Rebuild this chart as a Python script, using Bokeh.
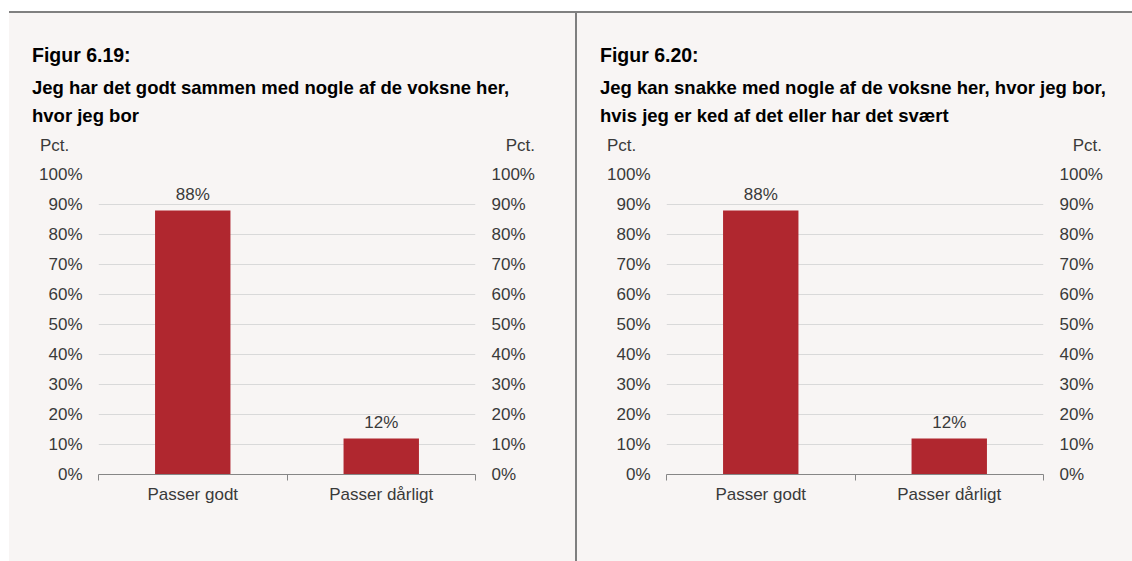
from bokeh.plotting import figure
from bokeh.models import (Range1d, LinearAxis, FixedTicker, Div,
                          PrintfTickFormatter, ColumnDataSource, Grid, Spacer)
from bokeh.layouts import row, column
from bokeh.embed import file_html
from bokeh.resources import INLINE
from bokeh.core.properties import value

# ---- data ----
categories = ["Passer godt", "Passer dårligt"]
values_6_19 = [88, 12]
values_6_20 = [88, 12]
labels_6_19 = ["88%", "12%"]
labels_6_20 = ["88%", "12%"]
y_ticks = [0, 10, 20, 30, 40, 50, 60, 70, 80, 90, 100]
fig_6_19 = "Figur 6.19:"
sub_6_19 = ["Jeg har det godt sammen med nogle af de voksne her,", "hvor jeg bor"]
fig_6_20 = "Figur 6.20:"
sub_6_20 = ["Jeg kan snakke med nogle af de voksne her, hvor jeg bor,",
            "hvis jeg er ked af det eller har det svært"]
unit_label = "Pct."

# ---- style ----
BG = "#f8f5f4"
RED = "#b0272f"
TXT = "#3a3a3a"
GRID = "#d9d9d9"
AX = "#868686"
FONT = "Liberation Sans"
H = 548          # full panel height
HH = 148         # header height
HC = H - HH      # chart height
FL = 89          # frame left inside each chart
ASC = 0.8464     # baseline position (em) for line-height 1 in Liberation Sans

n = len(categories)
centers = [i + 0.5 for i in range(n)]      # category slots on a 0..n axis
edges = list(range(n + 1))


def span(text, size, baseline, bold=False, color=TXT, left=None, right=None):
    top = baseline - ASC * size
    pos = f"left:{left}px;" if left is not None else f"right:{right}px;"
    return (f'<span style="position:absolute;{pos}top:{top:.1f}px;font-size:{size}px;'
            f'line-height:1;white-space:nowrap;font-weight:{"bold" if bold else "normal"};'
            f'color:{color};">{text}</span>')


def header(width, fig_title, sub_lines, tx, pl, pr):
    parts = [span(fig_title, 19.5, 49.8, bold=True, color="#000000", left=tx)]
    for i, s in enumerate(sub_lines):
        parts.append(span(s, 18.5, 81.6 + 28 * i, bold=True, color="#000000", left=tx))
    parts.append(span(unit_label, 17, 138.0, left=pl))
    parts.append(span(unit_label, 17, 138.0, right=width - pr))
    html = (f'<div style="position:relative;width:{width}px;height:{HH}px;background:{BG};'
            f'font-family:\'{FONT}\';margin:0;padding:0;">' + "".join(parts) + "</div>")
    return Div(text=html, width=width, height=HH, styles={"background-color": BG, "margin": "0",
                                                          "padding": "0"})


def chart(width, mbr, vals, vlabels):
    p = figure(width=width, height=HC, x_range=Range1d(0, n), y_range=Range1d(0, 100),
               x_axis_location=None, y_axis_location=None, output_backend="svg",
               toolbar_location=None, min_border_left=FL, min_border_right=mbr,
               min_border_top=13, min_border_bottom=87,
               background_fill_color=BG, border_fill_color=BG, outline_line_color=None)
    for g in p.grid:
        g.visible = False
    p.add_layout(Grid(dimension=1, ticker=FixedTicker(ticks=y_ticks), grid_line_color=GRID,
                      grid_line_width=1))

    for loc in ("left", "right"):
        ax = LinearAxis(ticker=FixedTicker(ticks=y_ticks), formatter=PrintfTickFormatter(format="%d%%"),
                        axis_line_color=None, major_tick_line_color=None, major_tick_in=0, major_tick_out=0,
                        minor_tick_line_color=None, major_label_standoff=16,
                        major_label_text_font=FONT, major_label_text_font_size="17px",
                        major_label_text_color=TXT)
        p.add_layout(ax, loc)

    xax = LinearAxis(ticker=FixedTicker(ticks=centers, minor_ticks=edges),
                     major_label_overrides={c: cat for c, cat in zip(centers, categories)},
                     axis_line_color=AX, axis_line_width=1,
                     major_tick_line_color=None, major_tick_in=0, major_tick_out=0,
                     minor_tick_line_color=AX, minor_tick_in=0, minor_tick_out=6,
                     major_label_standoff=4, major_label_text_font=FONT,
                     major_label_text_font_size="17px", major_label_text_color=TXT)
    p.add_layout(xax, "below")

    src = ColumnDataSource(dict(x=centers, cat=categories, val=vals, lab=vlabels))
    p.vbar(x="x", top="val", width=0.4, source=src, fill_color=RED, line_color=None)
    p.text(x="x", y="val", text="lab", source=src, text_align="center", text_baseline="alphabetic",
           y_offset=-16, text_font=value(FONT), text_font_size="17px", text_color=TXT)
    return p


h1 = header(566, fig_6_19, sub_6_19, 23, 31, 526)
p1 = chart(566, 100, values_6_19, labels_6_19)
h2 = header(555, fig_6_20, sub_6_20, 23, 30, 525)
p2 = chart(555, 89, values_6_20, labels_6_20)

top_gap = Spacer(width=1132, height=11)
left_gap1 = Spacer(width=9, height=2)
top_line = Spacer(width=1123, height=2, styles={"background-color": "#808080"})
left_gap2 = Spacer(width=9, height=H)
divider = Spacer(width=2, height=H, styles={"background-color": "#7f7f7f"})

col1 = column(h1, p1, spacing=0, styles={"background-color": BG})
col2 = column(h2, p2, spacing=0, styles={"background-color": BG})

layout = column(top_gap,
                row(left_gap1, top_line, spacing=0),
                row(left_gap2, col1, divider, col2, spacing=0),
                spacing=0)
open("out.html", "w").write(file_html(layout, INLINE))
